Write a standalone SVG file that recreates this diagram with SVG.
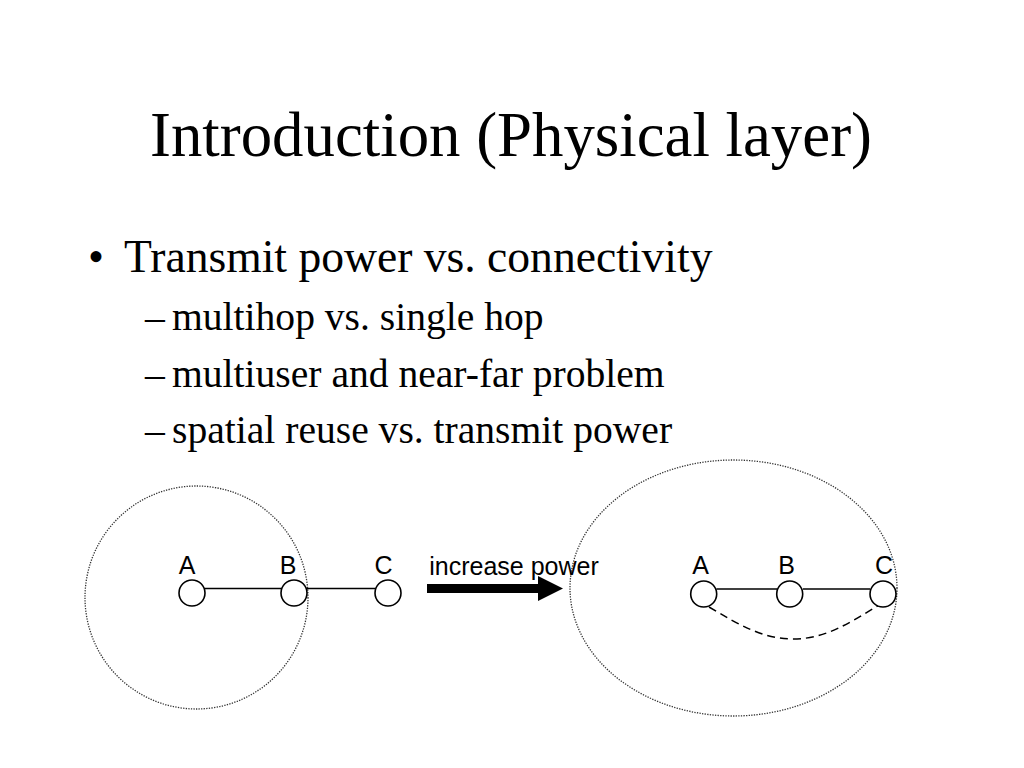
<svg xmlns="http://www.w3.org/2000/svg" width="1024" height="768" viewBox="0 0 1024 768">
<defs>
<style>
.serif{font-family:"Liberation Serif","Times New Roman",serif;fill:#000}
.sans{font-family:"Liberation Sans",Arial,sans-serif;fill:#000;font-size:25px;text-anchor:middle}
.range{fill:none;stroke:#333;stroke-width:1.3;stroke-dasharray:1.3 1.3}
.node{fill:#fff;stroke:#000;stroke-width:1.6}
.link{stroke:#000;stroke-width:1.6;fill:none}
.dash{stroke:#000;stroke-width:1.5;fill:none;stroke-dasharray:8 5}
</style>
</defs>
<rect width="1024" height="768" fill="#fff"/>
<text class="serif" x="511" y="156" font-size="62.8" text-anchor="middle">Introduction (Physical layer)</text>
<g id="bullets" class="serif">
<text x="88" y="272" font-size="45.6">•</text>
<text x="124" y="272" font-size="45.6">Transmit power vs. connectivity</text>
<text x="145" y="330" font-size="39.6">–</text>
<text x="172" y="330" font-size="39.6">multihop vs. single hop</text>
<text x="145" y="387" font-size="39.6">–</text>
<text x="172" y="387" font-size="39.6">multiuser and near-far problem</text>
<text x="145" y="443" font-size="39.6">–</text>
<text x="172" y="443" font-size="39.6">spatial reuse vs. transmit power</text>
</g>
<g id="ranges">
<circle class="range" cx="196.5" cy="597.5" r="111.5"/>
<ellipse class="range" cx="733.5" cy="588" rx="163.5" ry="128"/>
</g>
<g id="connectors">
<line class="link" x1="205" y1="588.5" x2="281" y2="588.5"/>
<line class="link" x1="298" y1="588.5" x2="375" y2="588.5"/>
<line class="link" x1="716.5" y1="589" x2="777" y2="589"/>
<line class="link" x1="803" y1="589" x2="870" y2="589"/>
<path class="dash" d="M709,607 C738,624 762,639 793,639 C826,639 851,622 879,605"/>
</g>
<g id="left-A"><circle class="node" cx="192" cy="593" r="13"/><text class="sans" x="187" y="574">A</text></g>
<g id="left-B"><circle class="node" cx="294" cy="593" r="13"/><text class="sans" x="288" y="574">B</text></g>
<g id="left-C"><circle class="node" cx="388" cy="593" r="13"/><text class="sans" x="383.5" y="574">C</text></g>
<g id="right-A"><circle class="node" cx="703.7" cy="594" r="13"/><text class="sans" x="700.5" y="574">A</text></g>
<g id="right-B"><circle class="node" cx="789.7" cy="594" r="13"/><text class="sans" x="786.5" y="574">B</text></g>
<g id="right-C"><circle class="node" cx="883" cy="594" r="13"/><text class="sans" x="884" y="574">C</text></g>
<g id="arrow">
<rect x="427" y="584" width="113" height="9" fill="#000"/>
<polygon points="538,576 563,588.5 538,601" fill="#000"/>
<text class="sans" x="514" y="575" font-size="25.3">increase power</text>
</g>
</svg>
